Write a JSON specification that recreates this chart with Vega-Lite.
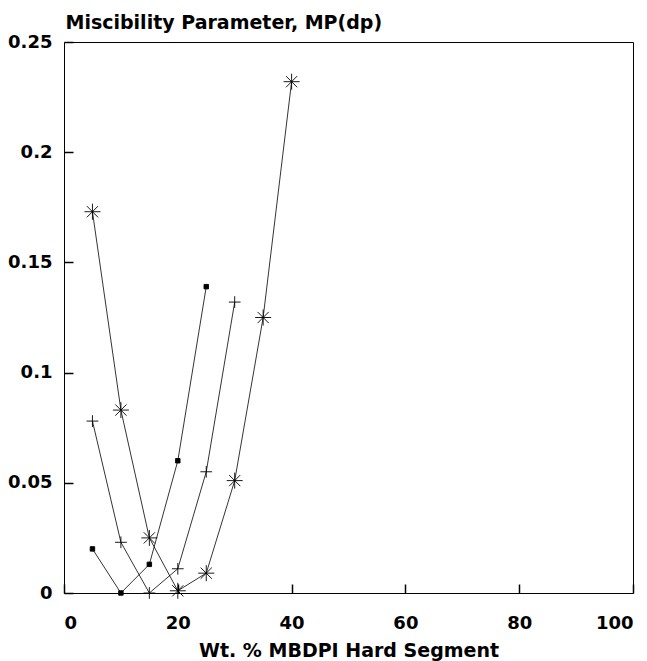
{
  "$schema": "https://vega.github.io/schema/vega-lite/v6.json",
  "width": 569,
  "height": 551,
  "autosize": "none",
  "padding": {"left": 64, "top": 42, "right": 14, "bottom": 68},
  "background": "white",
  "config": {
    "view": {"stroke": "black", "strokeWidth": 1},
    "font": "DejaVu Sans",
    "axis": {
      "domain": false,
      "grid": false,
      "ticks": true,
      "tickColor": "black",
      "tickWidth": 1.5,
      "tickOpacity": 1,
      "labelColor": "black",
      "titleColor": "black",
      "labelFont": "DejaVu Sans",
      "titleFont": "DejaVu Sans",
      "labelFontSize": 18,
      "labelFontWeight": "bold",
      "titleFontSize": 19,
      "titleFontWeight": "bold"
    }
  },
  "data": {
    "values": [
      {"series": "A", "wt": 5, "mp": 0.020},
      {"series": "A", "wt": 10, "mp": 0.0},
      {"series": "A", "wt": 15, "mp": 0.013},
      {"series": "A", "wt": 20, "mp": 0.060},
      {"series": "A", "wt": 25, "mp": 0.139},
      {"series": "B", "wt": 5, "mp": 0.078},
      {"series": "B", "wt": 10, "mp": 0.023},
      {"series": "B", "wt": 15, "mp": 0.0},
      {"series": "B", "wt": 20, "mp": 0.011},
      {"series": "B", "wt": 25, "mp": 0.055},
      {"series": "B", "wt": 30, "mp": 0.132},
      {"series": "C", "wt": 5, "mp": 0.173},
      {"series": "C", "wt": 10, "mp": 0.083},
      {"series": "C", "wt": 15, "mp": 0.025},
      {"series": "C", "wt": 20, "mp": 0.001},
      {"series": "C", "wt": 25, "mp": 0.009},
      {"series": "C", "wt": 30, "mp": 0.051},
      {"series": "C", "wt": 35, "mp": 0.125},
      {"series": "C", "wt": 40, "mp": 0.232}
    ]
  },
  "encoding": {
    "x": {
      "field": "wt", "type": "quantitative",
      "scale": {"domain": [0, 100], "nice": false},
      "axis": {
        "values": [0, 20, 40, 60, 80, 100],
        "tickSize": -9,
        "labelPadding": 30,
        "labelBaseline": "top",
        "title": "Wt. % MBDPI Hard Segment",
        "titlePadding": 9,
        "zindex": 1
      }
    },
    "y": {
      "field": "mp", "type": "quantitative",
      "scale": {"domain": [0, 0.25], "nice": false},
      "axis": {
        "values": [0, 0.05, 0.1, 0.15, 0.2, 0.25],
        "format": ".2~f",
        "tickSize": -9,
        "labelPadding": 21,
        "title": "Miscibility Parameter, MP(dp)",
        "titleAngle": 0,
        "titleAlign": "left",
        "titleBaseline": "alphabetic",
        "titleX": 1,
        "titleY": -14,
        "zindex": 1
      }
    }
  },
  "layer": [
    {
      "mark": {"type": "line", "color": "black", "strokeWidth": 0.8},
      "encoding": {"detail": {"field": "series"}}
    },
    {
      "mark": {"type": "point", "filled": true, "opacity": 1, "fill": "black", "stroke": "black", "strokeWidth": 0.9},
      "encoding": {
        "shape": {
          "field": "series", "type": "nominal", "legend": null,
          "scale": {"domain": ["A", "B", "C"], "range": [
            "M-1,-1L1,-1L1,1L-1,1Z",
            "M-1,0L1,0M0,-1L0,1",
            "M-1,0L1,0M0,-1L0,1M-0.7,-0.7L0.7,0.7M-0.7,0.7L0.7,-0.7"
          ]}
        },
        "size": {
          "field": "series", "type": "nominal", "legend": null,
          "scale": {"domain": ["A", "B", "C"], "range": [20, 256, 225]}
        }
      }
    }
  ]
}
